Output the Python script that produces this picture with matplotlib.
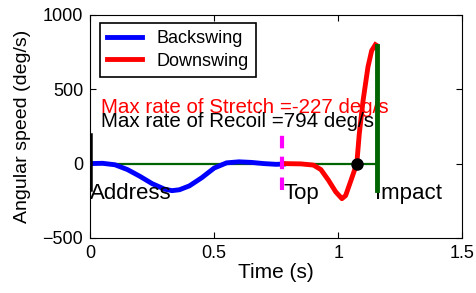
import matplotlib.pyplot as plt

plt.rcParams['font.family'] = ['Liberation Sans', 'DejaVu Sans']

# Backswing (address -> top)
back_t = [0, 0.05, 0.1, 0.15, 0.2, 0.25, 0.3, 0.33, 0.36, 0.4, 0.45, 0.5, 0.55, 0.6, 0.65, 0.7, 0.75, 0.78]
back_v = [0, 2, -8, -40, -85, -135, -172, -182, -176, -150, -95, -30, 5, 12, 8, 0, -5, -3]

# Downswing (top -> impact)
down_t = [0.78, 0.85, 0.9, 0.93, 0.96, 0.99, 1.015, 1.03, 1.05, 1.075, 1.085, 1.1, 1.12, 1.135, 1.15]
down_v = [0, -2, -10, -40, -110, -190, -236, -215, -120, 0, 200, 420, 650, 760, 800]

# event markers
t_address = 0.0
t_top = 0.775
t_impact = 1.157
t_zero = 1.075
stretch = -227
recoil = 794

fig = plt.figure(figsize=(4.77, 2.93), dpi=100)
ax = fig.add_axes([0.189, 0.188, 0.78, 0.761])

ax.plot([0, t_impact], [0, 0], color='#006400', lw=1.6, zorder=2)
ax.plot(back_t, back_v, color='blue', lw=3.5, label='Backswing', zorder=3)
ax.plot(down_t, down_v, color='red', lw=3.5, label='Downswing', zorder=3)
ax.plot([t_address + 0.004] * 2, [-180, 200], color='black', lw=1.8, zorder=4)
ax.plot([t_top] * 2, [-180, 200], color='magenta', lw=3, ls=(0, (3, 2)), zorder=4)
ax.plot([t_impact] * 2, [-180, recoil], color='#006400', lw=3.5, zorder=4)
ax.plot([t_zero], [0], 'o', color='black', ms=8, zorder=5)

ax.text(0.045, 378, 'Max rate of Stretch =%d deg/s' % stretch, color='red', fontsize=14.8, va='center')
ax.text(0.045, 280, 'Max rate of Recoil =%d deg/s' % recoil, color='black', fontsize=14.8, va='center')
ax.text(t_address, -236, 'Address', fontsize=16, va='baseline', ha='left')
ax.text(0.78, -236, 'Top', fontsize=16, va='baseline', ha='left')
ax.text(1.148, -236, 'Impact', fontsize=16, va='baseline', ha='left')

ax.set_xlim(0, 1.5)
ax.set_ylim(-500, 1000)
ax.set_xticks([0, 0.5, 1, 1.5])
ax.set_xticklabels(['0', '0.5', '1', '1.5'])
ax.set_yticks([-500, 0, 500, 1000])
ax.tick_params(direction='in', top=True, right=True, labelsize=13, length=4, pad=5)
ax.set_xlabel('Time (s)', fontsize=15)
ax.set_ylabel('Angular speed (deg/s)', fontsize=14)
ax.xaxis.set_label_coords(0.5, -0.112)
ax.yaxis.set_label_coords(-0.158, 0.5)

leg = ax.legend(loc='upper left', bbox_to_anchor=(0.027, 0.964), borderaxespad=0, fontsize=13,
                fancybox=False, edgecolor='black', framealpha=1, handlelength=1.9,
                borderpad=0.4, labelspacing=0.3)
leg.get_frame().set_linewidth(1.2)

fig.savefig('out.png', dpi=100)
